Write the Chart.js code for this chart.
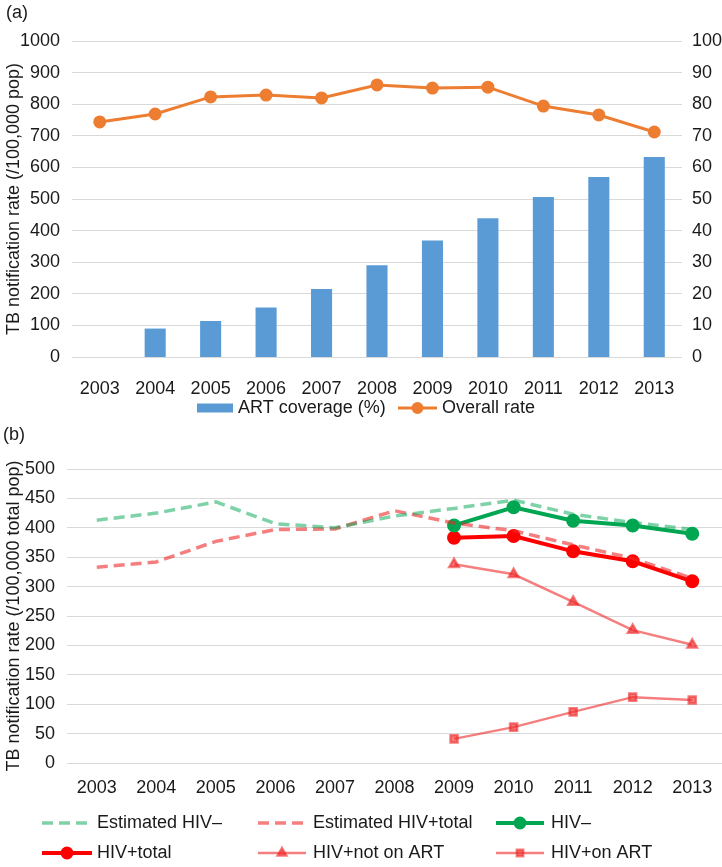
<!DOCTYPE html>
<html>
<head>
<meta charset="utf-8">
<script src="https://cdn.jsdelivr.net/npm/chart.js@4/dist/chart.umd.min.js"></script>
<style>
  body { margin: 0; background: #fff; }
  .panel { position: relative; width: 722px; }
  #wrapA { height: 425px; }
  #wrapB { height: 457px; margin-top: -15px; }
</style>
</head>
<body>
<div class="panel" id="wrapA"><canvas id="chartA"></canvas></div>
<div class="panel" id="wrapB"><canvas id="chartB"></canvas></div>
<script>
// ---- data ----
const years = ['2003', '2004', '2005', '2006', '2007', '2008', '2009', '2010', '2011', '2012', '2013'];

// panel (a)
const artCoverage = [null, 9.0, 11.4, 15.7, 21.5, 29.0, 36.9, 43.9, 50.6, 57.0, 63.3];
const overallRate = [744, 769, 823, 829, 820, 861, 851, 854, 794, 766, 712];

// panel (b)
const estHivNeg      = [413, 425, 444, 407, 400, 420, 433, 447, 423, 409, 397];
const estHivPosTotal = [333, 342, 377, 397, 398, 429, 408, 395, 371, 348, 314];
const hivNeg         = [null, null, null, null, null, null, 404, 435, 412, 404, 390];
const hivPosTotal    = [null, null, null, null, null, null, 383, 386, 360, 343, 309];
const hivPosNotArt   = [null, null, null, null, null, null, 338, 321, 274, 226, 201];
const hivPosOnArt    = [null, null, null, null, null, null, 41, 61, 87, 112, 107];

const rateTicksA = { min: 0, max: 1000, step: 100 };
const pctTicksA = { min: 0, max: 100, step: 10 };
const rateTicksB = { min: 0, max: 500, step: 50 };

// ---- styling ----
const FONT_FAMILY = '"Liberation Sans", Arial, Helvetica, sans-serif';
const FONT_SIZE = 18;
const TEXT = '#1a1a1a';
const GRID = '#d9d9d9';
const BLUE = '#5b9bd5';
const ORANGE = '#ed7d31';
const GREEN = '#00a651';
const RED = '#ff0000';
const LIGHT_RED = 'rgba(238, 40, 40, 0.6)';
const LIGHT_GREEN = 'rgba(0, 166, 81, 0.5)';

Chart.defaults.font.family = FONT_FAMILY;
Chart.defaults.font.size = FONT_SIZE;
Chart.defaults.color = TEXT;

// panel tag + hand-placed legend, drawn with each dataset's own style
const panelExtras = {
  id: 'panelExtras',
  afterDraw(chart, args, opts) {
    const ctx = chart.ctx;
    ctx.save();
    ctx.font = `${FONT_SIZE}px ${FONT_FAMILY}`;
    ctx.fillStyle = TEXT;
    ctx.textBaseline = 'middle';
    ctx.textAlign = 'left';
    ctx.fillText(opts.tag, opts.tagX, opts.tagY);

    opts.items.forEach(it => {
      const ds = chart.data.datasets[it.ds];
      const y = it.y;
      if (ds.type === 'bar') {
        ctx.fillStyle = ds.backgroundColor;
        ctx.fillRect(it.x0, y - 4.5, it.x1 - it.x0, 9);
      } else {
        ctx.strokeStyle = ds.borderColor;
        ctx.lineWidth = ds.borderWidth;
        ctx.setLineDash(ds.borderDash || []);
        ctx.beginPath();
        ctx.moveTo(it.x0, y);
        ctx.lineTo(it.x1, y);
        ctx.stroke();
        ctx.setLineDash([]);
        if (ds.pointRadius > 0) {
          ctx.fillStyle = ds.pointBackgroundColor || ds.borderColor;
          ctx.strokeStyle = ds.pointBorderColor || ds.borderColor;
          Chart.helpers.drawPoint(ctx, {
            pointStyle: ds.pointStyle || 'circle',
            radius: ds.pointRadius - 0.5,
            rotation: 0,
            borderWidth: 1
          }, (it.x0 + it.x1) / 2, y);
        }
      }
      ctx.fillStyle = TEXT;
      ctx.fillText(ds.label, it.tx, y);
    });
    ctx.restore();
  }
};

function gridAxis(t, extra) {
  return Object.assign({
    min: t.min,
    max: t.max,
    border: { display: false },
    grid: { color: GRID, lineWidth: 1, drawTicks: false },
    ticks: { stepSize: t.step, padding: 12, color: TEXT, callback: v => String(v) }
  }, extra);
}

function categoryAxis(height, pad) {
  return {
    offset: true,
    grid: { display: false },
    border: { display: false },
    ticks: { padding: pad, color: TEXT, maxRotation: 0, autoSkip: false },
    afterFit: s => {
      s.height = height;
      s.paddingLeft = 0;
      s.paddingRight = 0;
    }
  };
}

// ---- panel (a) ----
new Chart(document.getElementById('chartA'), {
  data: {
    labels: years,
    datasets: [
      {
        type: 'line',
        label: 'Overall rate',
        data: overallRate,
        yAxisID: 'y',
        borderColor: ORANGE,
        backgroundColor: ORANGE,
        borderWidth: 3,
        pointRadius: 5,
        pointBackgroundColor: ORANGE,
        pointBorderColor: ORANGE,
        tension: 0,
        order: 0
      },
      {
        type: 'bar',
        label: 'ART coverage (%)',
        data: artCoverage,
        yAxisID: 'y1',
        backgroundColor: BLUE,
        borderWidth: 0,
        categoryPercentage: 1,
        barPercentage: 0.38,
        order: 1
      }
    ]
  },
  options: {
    responsive: true,
    maintainAspectRatio: false,
    animation: false,
    layout: { autoPadding: false, padding: { top: 41, left: 0, right: 0, bottom: 15 } },
    plugins: {
      legend: { display: false },
      tooltip: { enabled: false },
      panelExtras: {
        tag: '(a)', tagX: 6, tagY: 13,
        items: [
          { ds: 1, x0: 197, x1: 233, tx: 238, y: 408 },
          { ds: 0, x0: 398, x1: 437, tx: 442, y: 408 }
        ]
      }
    },
    scales: {
      x: categoryAxis(53, 13),
      y: gridAxis(rateTicksA, {
        position: 'left',
        title: { display: true, text: 'TB notification rate (/100,000 pop)', color: TEXT, font: { size: FONT_SIZE }, padding: { top: 3, bottom: 3 } },
        afterFit: s => { s.width = 72; }
      }),
      y1: gridAxis(pctTicksA, {
        position: 'right',
        grid: { display: false, drawTicks: false },
        ticks: { stepSize: pctTicksA.step, padding: 10, color: TEXT, callback: v => String(v) },
        afterFit: s => { s.width = 40; }
      })
    }
  },
  plugins: [panelExtras]
});

// ---- panel (b) ----
function lineSet(label, data, style) {
  return Object.assign({
    type: 'line',
    label: label,
    data: data,
    tension: 0,
    spanGaps: false,
    pointRadius: 0,
    pointHoverRadius: 0
  }, style);
}

new Chart(document.getElementById('chartB'), {
  data: {
    labels: years,
    datasets: [
      lineSet('Estimated HIV\u2013', estHivNeg, {
        borderColor: LIGHT_GREEN, borderWidth: 3.5, borderDash: [11, 6], order: 1
      }),
      lineSet('Estimated HIV+total', estHivPosTotal, {
        borderColor: LIGHT_RED, borderWidth: 3.5, borderDash: [11, 6], order: 1
      }),
      lineSet('HIV\u2013', hivNeg, {
        borderColor: GREEN, borderWidth: 4, pointRadius: 5,
        pointBackgroundColor: GREEN, pointBorderColor: GREEN, pointStyle: 'circle', order: 2
      }),
      lineSet('HIV+total', hivPosTotal, {
        borderColor: RED, borderWidth: 4, pointRadius: 5,
        pointBackgroundColor: RED, pointBorderColor: RED, pointStyle: 'circle', order: 2
      }),
      lineSet('HIV+not on ART', hivPosNotArt, {
        borderColor: LIGHT_RED, borderWidth: 2.5, pointRadius: 5.5,
        pointBackgroundColor: LIGHT_RED, pointBorderColor: LIGHT_RED, pointStyle: 'triangle', order: 3
      }),
      lineSet('HIV+on ART', hivPosOnArt, {
        borderColor: LIGHT_RED, borderWidth: 2.5, pointRadius: 5,
        pointBackgroundColor: LIGHT_RED, pointBorderColor: LIGHT_RED, pointStyle: 'rect', order: 3
      })
    ]
  },
  options: {
    responsive: true,
    maintainAspectRatio: false,
    animation: false,
    layout: { autoPadding: false, padding: { top: 59, left: 0, right: 0, bottom: 0 } },
    plugins: {
      legend: { display: false },
      tooltip: { enabled: false },
      panelExtras: {
        tag: '(b)', tagX: 3, tagY: 25,
        items: [
          { ds: 0, x0: 42, x1: 92, tx: 97, y: 413 },
          { ds: 1, x0: 258, x1: 306, tx: 313, y: 413 },
          { ds: 2, x0: 496, x1: 544, tx: 551, y: 413 },
          { ds: 3, x0: 42, x1: 92, tx: 97, y: 443 },
          { ds: 4, x0: 258, x1: 306, tx: 313, y: 443 },
          { ds: 5, x0: 496, x1: 544, tx: 551, y: 443 }
        ]
      }
    },
    scales: {
      x: categoryAxis(104, 6),
      y: gridAxis(rateTicksB, {
        position: 'left',
        title: { display: true, text: 'TB notification rate (/100,000 total pop)', color: TEXT, font: { size: FONT_SIZE }, padding: { top: 3, bottom: 3 } },
        afterFit: s => { s.width = 67; }
      })
    }
  },
  plugins: [panelExtras]
});
</script>
</body>
</html>
